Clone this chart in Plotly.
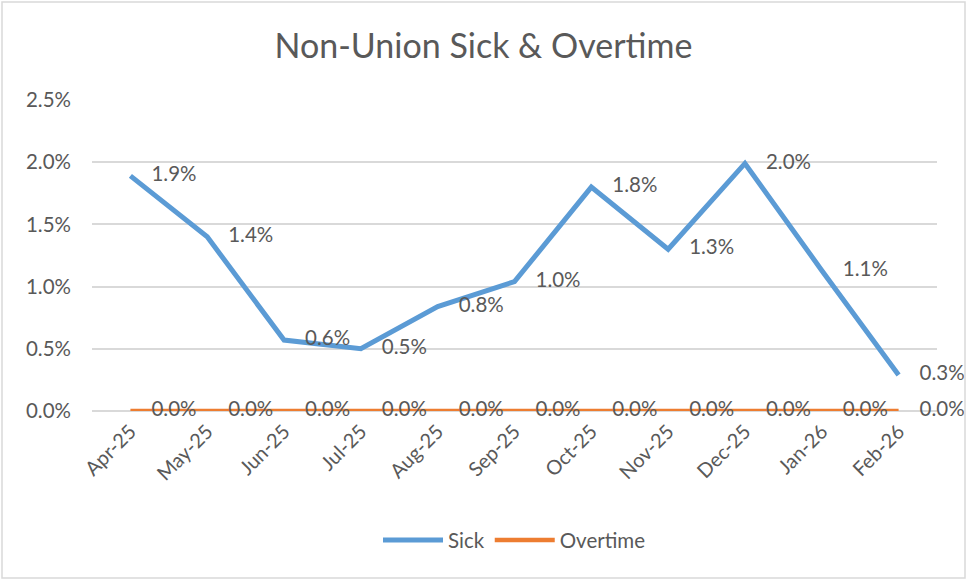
import plotly.graph_objects as go

months = ["Apr-25", "May-25", "Jun-25", "Jul-25", "Aug-25", "Sep-25",
          "Oct-25", "Nov-25", "Dec-25", "Jan-26", "Feb-26"]
sick = [0.0189, 0.0140, 0.0057, 0.0050, 0.0084, 0.0104,
        0.0180, 0.0130, 0.0199, 0.0113, 0.0029]
overtime = [0.0, 0.0, 0.0, 0.0, 0.0, 0.0, 0.0, 0.0, 0.0, 0.0, 0.0]
y_ticks = [0.0, 0.005, 0.010, 0.015, 0.020, 0.025]

FONT = "Lato"
GREY = "#595959"

fig = go.Figure()
for name, vals, color, w in [("Sick", sick, "#5B9BD5", 5), ("Overtime", overtime, "#ED7D31", 4.5)]:
    fig.add_trace(go.Scatter(
        x=months, y=vals, name=name, mode="lines",
        line=dict(color=color, width=w),
    ))
for vals, dy in [(sick, 0), (overtime, 0)]:
    fig.add_trace(go.Scatter(
        x=months, y=vals, mode="markers+text", showlegend=False, hoverinfo="skip",
        marker=dict(size=32, opacity=0),
        text=[f"{v*100:.1f}%" for v in vals], textposition="middle right",
        textfont=dict(family=FONT, size=20.5, color=GREY),
        cliponaxis=False,
    ))

fig.update_layout(
    width=967, height=581,
    margin=dict(l=92, r=30, t=100, b=170),
    paper_bgcolor="white", plot_bgcolor="white",
    title=dict(text="Non-Union Sick &amp; Overtime", x=0.5, xanchor="center",
               y=1 - 46/581, yanchor="middle",
               font=dict(family=FONT, size=34, color=GREY)),
    font=dict(family=FONT, color=GREY),
    showlegend=True,
    legend=dict(orientation="h", x=0.5, xanchor="center", y=-0.415, yanchor="middle",
                font=dict(family=FONT, size=20.5, color=GREY),
                itemwidth=60, traceorder="normal"),
    xaxis=dict(type="category", range=[-0.5, 10.5], showgrid=False,
               tickangle=-45, tickfont=dict(family=FONT, size=20, color=GREY),
               showline=False, ticks="", zeroline=False, ticklabelstandoff=4),
    yaxis=dict(range=[0, 0.025], tickvals=y_ticks, tickformat=".1%",
               showgrid=True, gridcolor="#D9D9D9", gridwidth=1.5,
               zeroline=True, zerolinecolor="#D9D9D9", zerolinewidth=1.5,
               showline=False, ticks="", ticklen=0, ticklabelstandoff=20,
               tickfont=dict(family=FONT, size=20.5, color=GREY)),
    shapes=[dict(type="rect", xref="paper", yref="paper",
                 x0=(2-92)/845, x1=(965-92)/845,
                 y0=(411-578)/311, y1=(411-2)/311,
                 line=dict(color="#D9D9D9", width=1.5), fillcolor="rgba(0,0,0,0)")],
)

fig.write_html("out.html", config={"displayModeBar": False},
               post_script="document.body.style.margin='0';document.body.style.overflow='hidden';")
